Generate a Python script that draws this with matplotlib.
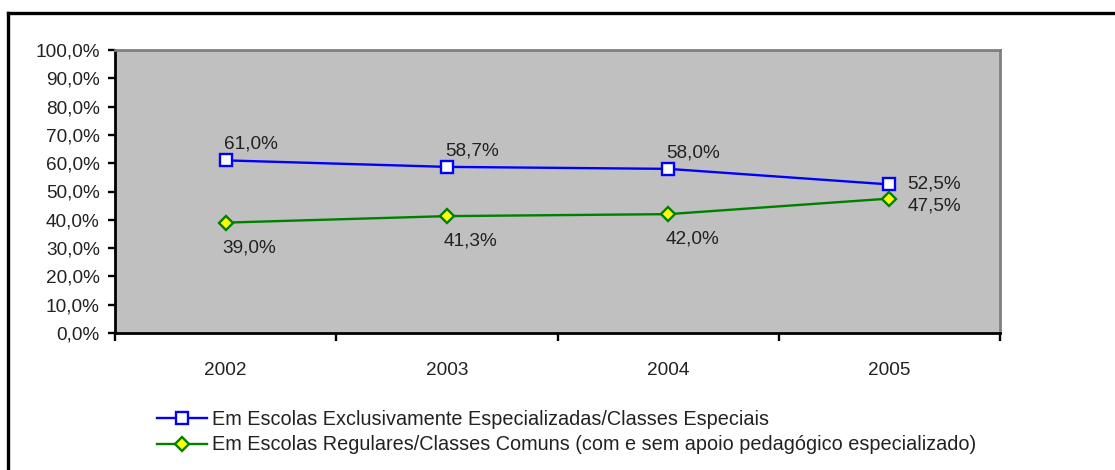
import matplotlib
matplotlib.use("Agg")
import matplotlib.pyplot as plt
from matplotlib.lines import Line2D
from matplotlib.ticker import FixedLocator, FuncFormatter

plt.rcParams['font.family'] = ['Liberation Sans', 'DejaVu Sans']

years = ["2002", "2003", "2004", "2005"]
especiais = [61.0, 58.7, 58.0, 52.5]
comuns = [39.0, 41.3, 42.0, 47.5]
label_esp = "Em Escolas Exclusivamente Especializadas/Classes Especiais"
label_com = "Em Escolas Regulares/Classes Comuns (com e sem apoio pedagógico especializado)"
yticks = list(range(0, 101, 10))

W, H = 1115, 470
fig = plt.figure(figsize=(W / 100, H / 100), dpi=100)
ax = fig.add_axes([115 / W, 1 - 333 / H, 885 / W, 283 / H])
ax.set_facecolor('#C0C0C0')

x = list(range(len(years)))
ax.plot(x, especiais, color='#0000FF', lw=1.7, marker='s', ms=8.5,
        mfc='white', mec='#0000FF', mew=1.7, zorder=3)
ax.plot(x, comuns, color='#008000', lw=1.7, marker='D', ms=7.5,
        mfc='#FFFF00', mec='#008000', mew=1.7, zorder=3)

fs = 13.7
txtc = '#222222'
for i, v in enumerate(especiais):
    if i < len(years) - 1:
        ax.annotate(f"{v:.1f}%".replace('.', ','), (i, v), xytext=(-2, 16),
                    textcoords='offset pixels', ha='left', va='center', fontsize=fs, color=txtc)
    else:
        ax.annotate(f"{v:.1f}%".replace('.', ','), (i, v), xytext=(18, 0),
                    textcoords='offset pixels', ha='left', va='center', fontsize=fs, color=txtc)
for i, v in enumerate(comuns):
    if i < len(years) - 1:
        ax.annotate(f"{v:.1f}%".replace('.', ','), (i, v), xytext=(-3, -25),
                    textcoords='offset pixels', ha='left', va='center', fontsize=fs, color=txtc)
    else:
        ax.annotate(f"{v:.1f}%".replace('.', ','), (i, v), xytext=(18, -7),
                    textcoords='offset pixels', ha='left', va='center', fontsize=fs, color=txtc)

ax.set_xlim(-0.5, len(years) - 0.5)
ax.set_ylim(0, 100)
ax.yaxis.set_major_locator(FixedLocator(yticks))
ax.yaxis.set_major_formatter(FuncFormatter(lambda v, p: f"{v:.1f}%".replace('.', ',')))
ax.xaxis.set_major_locator(FixedLocator([i - 0.5 for i in range(len(years) + 1)]))
ax.xaxis.set_major_formatter(FuncFormatter(lambda v, p: ''))
ax.xaxis.set_minor_locator(FixedLocator(x))
ax.xaxis.set_minor_formatter(FuncFormatter(lambda v, p: years[int(round(v))]))
ax.tick_params(axis='y', direction='out', length=5, width=1.7, labelsize=fs,
               labelcolor=txtc, pad=6)
ax.tick_params(axis='x', which='major', direction='out', length=6, width=1.7)
ax.tick_params(axis='x', which='minor', length=0, labelsize=fs, labelcolor=txtc, pad=21)

for s in ['left', 'bottom']:
    ax.spines[s].set_color('black')
    ax.spines[s].set_linewidth(2)
for s in ['top', 'right']:
    ax.spines[s].set_color('#808080')
    ax.spines[s].set_linewidth(2)

lfs = 14.3
handles = [
    Line2D([], [], color='#0000FF', lw=1.7, marker='s', ms=8.5, mfc='white', mec='#0000FF', mew=1.7),
    Line2D([], [], color='#008000', lw=1.7, marker='D', ms=7.5, mfc='#FFFF00', mec='#008000', mew=1.7),
]
fig.legend(handles, [label_esp, label_com], loc='upper left',
           bbox_to_anchor=(147 / W, 1 - 400 / H), frameon=False, fontsize=lfs,
           handlelength=2.5, handletextpad=0.28, labelspacing=0.33, borderpad=0,
           labelcolor=txtc)

# outer frame
fig.add_artist(Line2D([8 / W, 1.0], [1 - 13 / H, 1 - 13 / H], transform=fig.transFigure,
                      color='black', lw=2.4))
fig.add_artist(Line2D([8 / W, 8 / W], [0, 1 - 13 / H], transform=fig.transFigure,
                      color='black', lw=2.4))

fig.savefig('out.png', dpi=100)
